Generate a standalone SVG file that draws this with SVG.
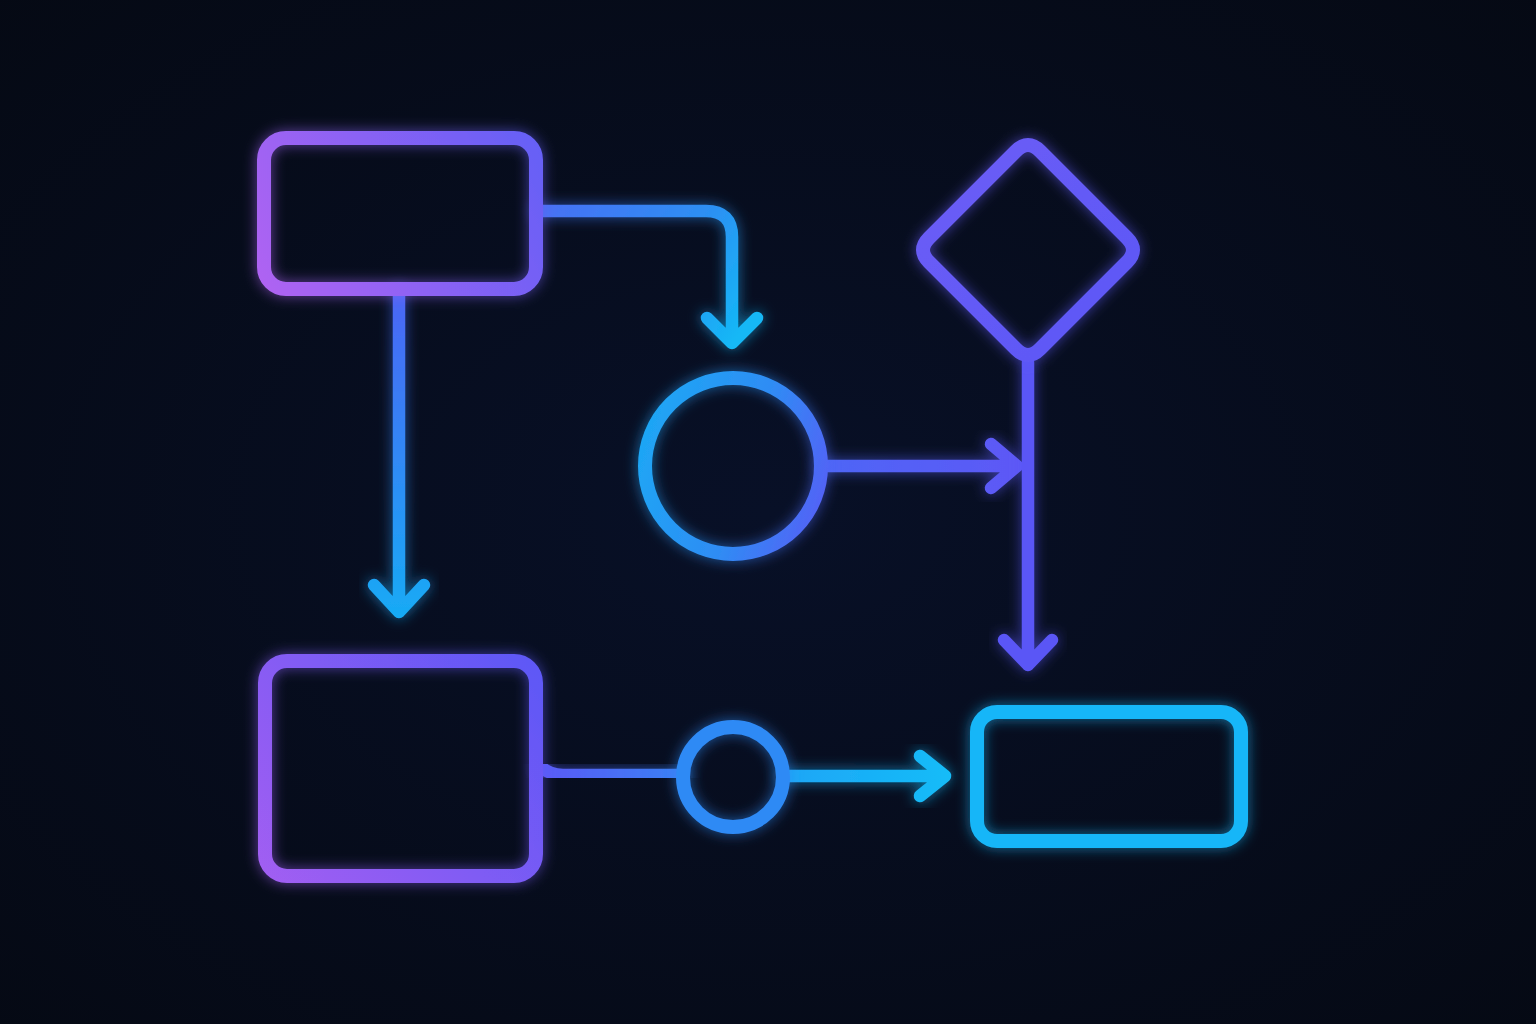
<svg xmlns="http://www.w3.org/2000/svg" width="1536" height="1024" viewBox="0 0 1536 1024">
<defs>
<radialGradient id="bg" cx="50%" cy="50%" r="75%">
<stop offset="0" stop-color="#081027"/>
<stop offset="1" stop-color="#050913"/>
</radialGradient>
<filter id="glow" x="-30%" y="-30%" width="160%" height="160%">
<feGaussianBlur in="SourceGraphic" stdDeviation="7" result="b"/>
<feComponentTransfer in="b" result="b2"><feFuncA type="linear" slope="0.6"/></feComponentTransfer>
<feMerge><feMergeNode in="b2"/><feMergeNode in="SourceGraphic"/></feMerge>
</filter>
<linearGradient id="gRect1" gradientUnits="userSpaceOnUse" x1="258" y1="290" x2="545" y2="140">
<stop offset="0" stop-color="#b064f2"/>
<stop offset="1" stop-color="#6460f6"/>
</linearGradient>
<linearGradient id="gRect2" gradientUnits="userSpaceOnUse" x1="258" y1="880" x2="545" y2="660">
<stop offset="0" stop-color="#a25ef2"/>
<stop offset="1" stop-color="#5c58f6"/>
</linearGradient>
<linearGradient id="gC1" gradientUnits="userSpaceOnUse" x1="540" y1="211" x2="732" y2="345">
<stop offset="0" stop-color="#4870f4"/>
<stop offset="0.6" stop-color="#2c90f3"/>
<stop offset="1" stop-color="#14b8f6"/>
</linearGradient>
<linearGradient id="gC2" gradientUnits="userSpaceOnUse" x1="399" y1="295" x2="399" y2="615">
<stop offset="0" stop-color="#4a66f5"/>
<stop offset="1" stop-color="#18aaf5"/>
</linearGradient>
<linearGradient id="gBig" gradientUnits="userSpaceOnUse" x1="640" y1="440" x2="830" y2="500">
<stop offset="0" stop-color="#1ea6f5"/>
<stop offset="0.55" stop-color="#2f8cf4"/>
<stop offset="1" stop-color="#5560f6"/>
</linearGradient>
<linearGradient id="gC3" gradientUnits="userSpaceOnUse" x1="825" y1="466" x2="1020" y2="466">
<stop offset="0" stop-color="#4e66f6"/>
<stop offset="1" stop-color="#5d58f6"/>
</linearGradient>
<linearGradient id="gC4" gradientUnits="userSpaceOnUse" x1="733" y1="555" x2="733" y2="720">
<stop offset="0" stop-color="#377ef4"/>
<stop offset="1" stop-color="#3a78f4"/>
</linearGradient>
<linearGradient id="gC5" gradientUnits="userSpaceOnUse" x1="540" y1="776" x2="683" y2="776">
<stop offset="0" stop-color="#5a5af6"/>
<stop offset="1" stop-color="#3a80f4"/>
</linearGradient>
<linearGradient id="gC6" gradientUnits="userSpaceOnUse" x1="785" y1="776" x2="950" y2="776">
<stop offset="0" stop-color="#1fa6f6"/>
<stop offset="1" stop-color="#12bcf8"/>
</linearGradient>
<linearGradient id="gDia" gradientUnits="userSpaceOnUse" x1="917" y1="139" x2="1139" y2="361">
<stop offset="0" stop-color="#6d5cf6"/>
<stop offset="1" stop-color="#5a58f6"/>
</linearGradient>
<style>
.bg{fill:url(#bg)}
.node{fill:none;stroke-width:14;stroke-linejoin:round;filter:url(#glow)}
.edge{fill:none;stroke-width:12.5;stroke-linecap:round;stroke-linejoin:round;filter:url(#glow)}
</style>
</defs>
<rect class="bg" x="0" y="0" width="1536" height="1024"/>

<g id="connectors">
<path class="edge" stroke="url(#gC1)" d="M538,211 H706 Q732,211 732,237 V343 M707,318 L732,343 L757,318"/>
<path class="edge" stroke="url(#gC2)" d="M399,292 V612 M374,585 L399,612 L424,585"/>
<path class="edge" stroke="url(#gC3)" d="M822,466 H1017 M991,444 L1017,466 L991,488"/>
<path class="edge" stroke="url(#gC4)" d="M733,555 V721"/>
<path class="edge" stroke="url(#gC5)" d="M541,767 Q550,775 563,775 H683"/>
<path class="edge" stroke="url(#gC6)" d="M783,776 H945 M920,756 L945,776 L920,796"/>
<path class="edge" stroke="#5a56f6" d="M1028,363 V665 M1004,640 L1028,665 L1052,640"/>
</g>

<g id="node-start">
<rect class="node" stroke="url(#gRect1)" x="264" y="138" width="272" height="151" rx="22"/>
</g>
<g id="node-process">
<rect class="node" stroke="url(#gRect2)" x="265" y="661" width="271" height="215" rx="22"/>
</g>
<g id="node-circle-big">
<circle class="node" stroke="url(#gBig)" cx="733" cy="466" r="88"/>
</g>
<g id="node-circle-small">
<circle class="node" stroke="#2f8af5" cx="733" cy="777" r="50"/>
</g>
<g id="node-decision">
<path class="node" stroke="url(#gDia)" d="M1016,151 Q1028,139 1040,151 L1127,238 Q1139,250 1127,262 L1040,349 Q1028,361 1016,349 L929,262 Q917,250 929,238 Z"/>
</g>
<g id="node-end">
<rect class="node" stroke="#19b6f8" x="977" y="712" width="264" height="129" rx="20"/>
</g>
</svg>
